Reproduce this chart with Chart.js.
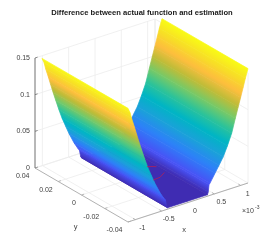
<!DOCTYPE html>
<html>
<head>
<meta charset="utf-8">
<style>
  html, body { margin: 0; padding: 0; background: #fff; }
  canvas { display: block; filter: blur(0.5px); }
</style>
<script src="https://cdn.jsdelivr.net/npm/chart.js@4"></script>
</head>
<body>
<canvas id="chartDifference" width="275" height="250"></canvas>
<script>
// Surface values (x in units of 1e-3)
const xValues = [-1.14, -1.10, -1.069, -1.02, -0.975, -0.93, -0.88, -0.82, -0.76, -0.69, -0.627, -0.53, -0.46, -0.43, -0.405, -0.39,
  0.37, 0.385, 0.40, 0.417, 0.513, 0.59, 0.67, 0.75, 0.83, 0.90, 0.955, 1.0, 1.051, 1.09, 1.14];
const zValues = [0.155, 0.148, 0.139, 0.127, 0.1155, 0.104, 0.092, 0.078, 0.0648, 0.052, 0.0405, 0.0255, 0.0165, 0.0135, 0.004, 0.002,
  0.002, 0.0057, 0.015, 0.0164, 0.0278, 0.037, 0.0468, 0.06, 0.075, 0.094, 0.1084, 0.12, 0.1334, 0.144, 0.156];
const yEdges = [0.034, -0.04];

// Red curves lying on the floor
const redCurveAx = [0.251, 0.317, 0.367];
const redCurveAy = [0.0067, 0.0053, 0.0037];
const redCurveBx = [0.049, 0.187, 0.343];
const redCurveBy = [-0.0079, -0.0074, -0.0042];

// Axes
const xTicks = [-1, -0.5, 0, 0.5, 1];
const yTicks = [0.04, 0.02, 0, -0.02, -0.04];
const zTicks = [0, 0.05, 0.1, 0.15];
const xTickLabels = ['-1', '-0.5', '0', '0.5', '1'];
const yTickLabels = ['0.04', '0.02', '0', '-0.02', '-0.04'];
const zTickLabels = ['0', '0.05', '0.1', '0.15'];
const xLimit = 1.14;
const yLimit = 0.04;
const zLimit = 0.15;

const parulaColors = [
  [62, 38, 168], [71, 82, 245], [45, 128, 248], [26, 161, 217], [0, 181, 196], [44, 195, 154],
  [117, 201, 104], [190, 188, 56], [253, 190, 61], [247, 222, 38], [249, 251, 21]
];
const colorMax = 0.156;

const GRID_COLOR = '#ececec';
const AXIS_COLOR = '#a8a8a8';
const ZAXIS_COLOR = '#707070';
const TEXT_COLOR = '#404040';
const FONT_FAMILY = '"Liberation Sans", Arial, sans-serif';

/**
 * Orthographic view of the 3D box onto the 2D scales
 */
function project(x, y, z) {
  const s = (x + xLimit) / (2 * xLimit);
  const t = (yLimit - y) / (2 * yLimit);
  return {
    x: 35 + 120 * s + 93 * t,
    y: 168 - 39 * s + 54 * t - 110 * z / zLimit
  };
}

function parula(z) {
  const pos = Math.max(0, Math.min(1, z / colorMax)) * (parulaColors.length - 1);
  const i = Math.min(Math.floor(pos), parulaColors.length - 2);
  const f = pos - i;
  const a = parulaColors[i];
  const b = parulaColors[i + 1];
  return 'rgb(' + [0, 1, 2].map(k => Math.round(a[k] + (b[k] - a[k]) * f)).join(',') + ')';
}

function lineDataset(points, color, width) {
  return {
    data: points.map(p => project(p[0], p[1], p[2])),
    showLine: true,
    borderColor: color,
    borderWidth: width,
    pointRadius: 0,
    clip: false
  };
}

// Strips of the surface, nearest first because Chart.js paints the list backwards
function buildSurface() {
  const strips = [];
  for (let i = 0; i < xValues.length - 1; i++) {
    strips.push({
      data: [
        project(xValues[i], yEdges[0], zValues[i]),
        project(xValues[i], yEdges[1], zValues[i]),
        project(xValues[i + 1], yEdges[1], zValues[i + 1]),
        project(xValues[i + 1], yEdges[0], zValues[i + 1])
      ],
      showLine: false,
      pointRadius: 0,
      clip: false,
      stripZ: [zValues[i], zValues[i + 1]]
    });
  }
  return strips;
}

function buildGrid() {
  const sets = [];
  const add = (a, b) => sets.push(lineDataset([a, b], GRID_COLOR, 0.8));
  xTicks.forEach(x => {
    add([x, yLimit, 0], [x, -yLimit, 0]);
    add([x, yLimit, 0], [x, yLimit, zLimit]);
  });
  yTicks.forEach(y => {
    add([-xLimit, y, 0], [xLimit, y, 0]);
    add([xLimit, y, 0], [xLimit, y, zLimit]);
  });
  zTicks.forEach(z => {
    add([-xLimit, yLimit, z], [xLimit, yLimit, z]);
    add([xLimit, yLimit, z], [xLimit, -yLimit, z]);
  });
  add([xLimit, yLimit, 0], [xLimit, yLimit, zLimit]);
  return sets;
}

function buildAxes() {
  const sets = [
    lineDataset([[-xLimit, yLimit, 0], [-xLimit, -yLimit, 0]], AXIS_COLOR, 0.9),
    lineDataset([[-xLimit, -yLimit, 0], [xLimit, -yLimit, 0]], AXIS_COLOR, 0.9),
    lineDataset([[-xLimit, yLimit, 0], [-xLimit, yLimit, zLimit]], ZAXIS_COLOR, 1)
  ];
  xTicks.forEach(x => sets.push(lineDataset([[x, -yLimit, 0], [x, -yLimit + 0.002, 0]], AXIS_COLOR, 0.8)));
  yTicks.forEach(y => sets.push(lineDataset([[-xLimit, y, 0], [-xLimit + 0.05, y, 0]], AXIS_COLOR, 0.8)));
  zTicks.forEach(z => sets.push(lineDataset([[-xLimit, yLimit, z], [-xLimit + 0.05, yLimit, z]], ZAXIS_COLOR, 0.8)));
  return sets;
}

function buildRedCurve(xs, ys) {
  return lineDataset(xs.map((x, i) => [x, ys[i], 0]), '#c0204c', 0.7);
}

/**
 * Fills each surface strip from the points the scales placed,
 * with a gradient that runs across the strip
 */
const surfacePlugin = {
  id: 'surfacePlugin',
  afterDatasetDraw(chart, args) {
    const dataset = chart.data.datasets[args.index];
    if (!dataset.stripZ) return;
    const pts = args.meta.data;
    const ctx = chart.ctx;
    const ex = pts[1].x - pts[0].x;
    const ey = pts[1].y - pts[0].y;
    const nx = -ey;
    const ny = ex;
    const k = ((pts[3].x - pts[0].x) * nx + (pts[3].y - pts[0].y) * ny) / (nx * nx + ny * ny);
    const gradient = ctx.createLinearGradient(pts[0].x, pts[0].y, pts[0].x + nx * k, pts[0].y + ny * k);
    for (let i = 0; i <= 6; i++) {
      const z = dataset.stripZ[0] + (dataset.stripZ[1] - dataset.stripZ[0]) * i / 6;
      gradient.addColorStop(i / 6, parula(z));
    }
    ctx.save();
    ctx.beginPath();
    pts.forEach((p, i) => (i === 0 ? ctx.moveTo(p.x, p.y) : ctx.lineTo(p.x, p.y)));
    ctx.closePath();
    ctx.fillStyle = gradient;
    ctx.strokeStyle = gradient;
    ctx.lineWidth = 0.7;
    ctx.fill();
    ctx.stroke();
    ctx.restore();
  }
};

/**
 * Tick labels and axis names placed with the same view and scales
 */
const labelsPlugin = {
  id: 'labelsPlugin',
  afterDraw(chart) {
    const ctx = chart.ctx;
    const sx = chart.scales.x;
    const sy = chart.scales.y;
    const put = (text, p, dx, dy, align, size) => {
      ctx.font = (size || 7) + 'px ' + FONT_FAMILY;
      ctx.textAlign = align;
      ctx.fillText(text, sx.getPixelForValue(p.x) + dx, sy.getPixelForValue(p.y) + dy);
    };
    ctx.save();
    ctx.fillStyle = TEXT_COLOR;
    ctx.textBaseline = 'middle';
    zTicks.forEach((z, i) => put(zTickLabels[i], project(-xLimit, yLimit, z), -5, 0, 'right'));
    yTicks.forEach((y, i) => put(yTickLabels[i], project(-xLimit, y, 0), -5.5, 8.5, 'right'));
    xTicks.forEach((x, i) => put(xTickLabels[i], project(x, -yLimit, 0), 7, 8.5, 'center'));
    put('x', project(0, -yLimit, 0), -4, 27, 'center', 7.5);
    put('y', project(-xLimit, 0, 0), -6, 32, 'center', 7.5);
    put('\u00d710', project(xLimit, -yLimit, 0), -6, 28, 'left', 7);
    put('-3', project(xLimit, -yLimit, 0), 7, 25, 'left', 5);
    ctx.restore();
  }
};

const redCurves = [buildRedCurve(redCurveAx, redCurveAy), buildRedCurve(redCurveBx, redCurveBy)];

new Chart(document.getElementById('chartDifference').getContext('2d'), {
  type: 'scatter',
  data: { datasets: [...redCurves, ...buildSurface(), ...buildAxes(), ...buildGrid()] },
  options: {
    responsive: false,
    animation: false,
    // Left padding moves the title to the right, the x scale starts there too
    layout: { padding: { left: 9 } },
    plugins: {
      legend: { display: false },
      tooltip: { enabled: false },
      title: {
        display: true,
        text: 'Difference between actual function and estimation',
        color: '#1a1a1a',
        font: { family: FONT_FAMILY, size: 7.6, weight: 'bold', lineHeight: 10 / 7.6 },
        padding: { top: 8, bottom: 2 }
      }
    },
    scales: {
      x: { type: 'linear', display: false, min: 9, max: 275 },
      y: { type: 'linear', display: false, min: 20, max: 250, reverse: true }
    }
  },
  plugins: [surfacePlugin, labelsPlugin]
});
</script>
</body>
</html>
